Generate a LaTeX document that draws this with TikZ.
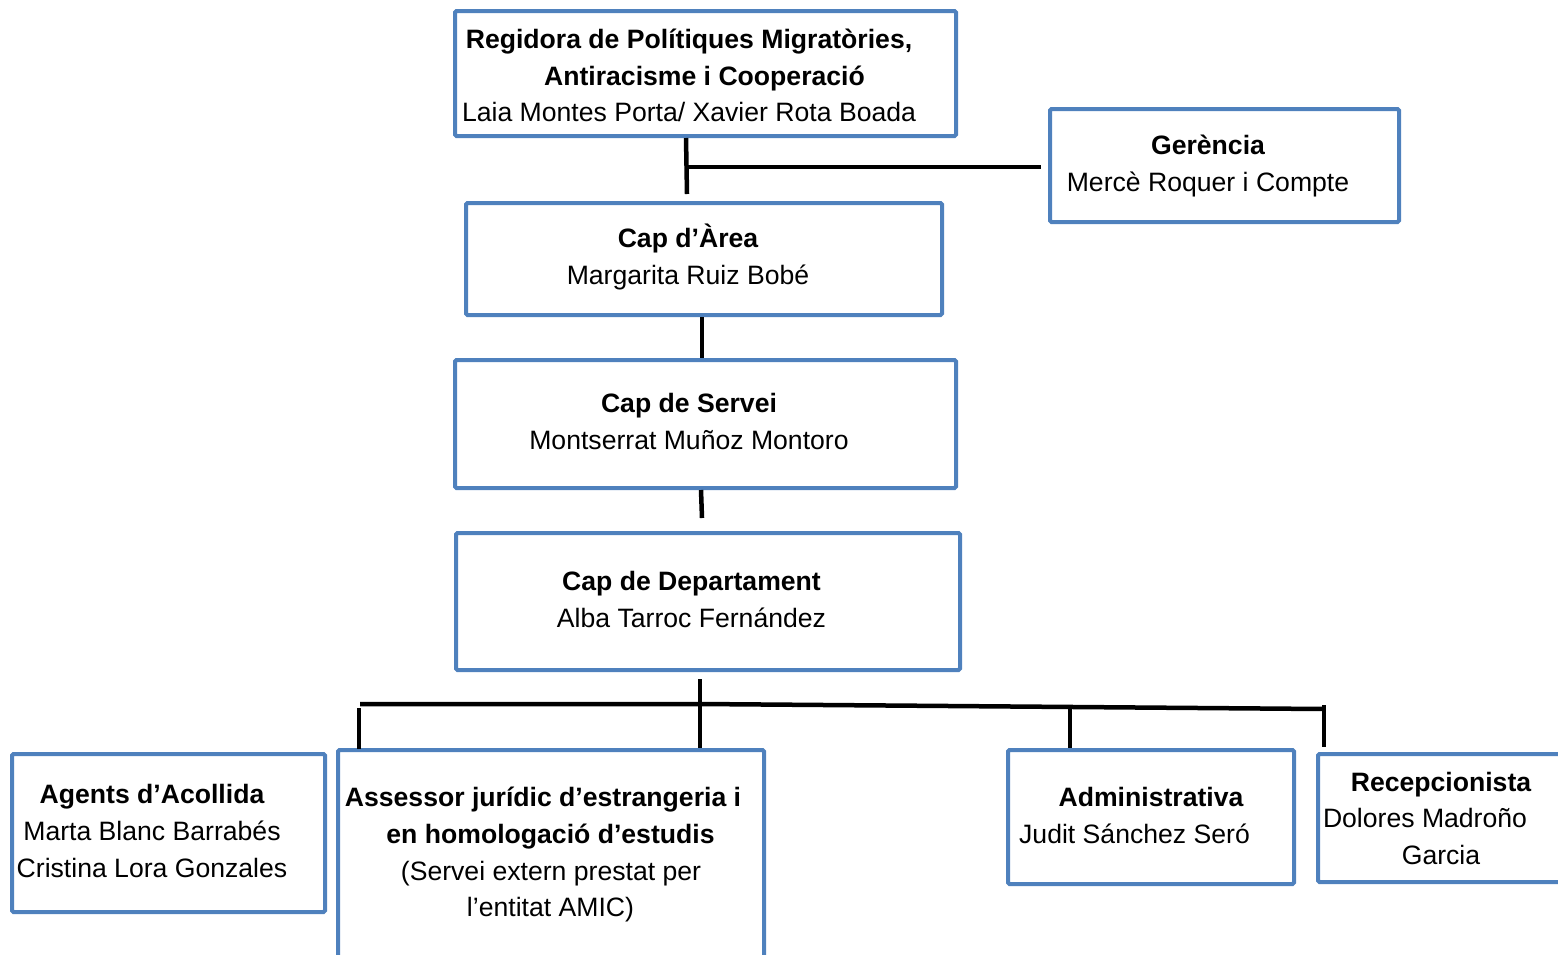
\documentclass[tikz,border=0pt]{standalone}
\usepackage{fontspec}
\setmainfont{Liberation Sans}
\definecolor{boxblue}{HTML}{4F81BD}
\begin{document}
\begin{tikzpicture}[x=1pt,y=-1pt,
  box/.style={draw=boxblue,line width=4pt,rectangle,inner sep=0pt,rounded corners=1.5pt},
  txt/.style={anchor=base,inner sep=0pt,font=\fontsize{26.6}{36.5}\selectfont},
  btxt/.style={txt,font=\fontsize{26.6}{36.5}\selectfont\bfseries},
  conn/.style={draw=black,line width=4.5pt}]
\useasboundingbox (0,0) rectangle (1558,954);
% boxes
\node[box,minimum width=501pt,minimum height=125pt] (reg) at (705.5,73.5) {};
\node[box,minimum width=349pt,minimum height=113pt] (ger) at (1224.5,165.5) {};
\node[box,minimum width=476pt,minimum height=112pt] (area) at (704,259) {};
\node[box,minimum width=501pt,minimum height=128pt] (serv) at (705.5,424) {};
\node[box,minimum width=504pt,minimum height=137pt] (dept) at (708,601.5) {};
\node[box,minimum width=313pt,minimum height=158pt] (agents) at (168.5,833) {};
\node[box,minimum width=426pt,minimum height=250pt] (asses) at (551,875) {};
\node[box,minimum width=286pt,minimum height=134pt] (admin) at (1151,817) {};
\node[box,minimum width=262pt,minimum height=128pt] (recep) at (1449,818) {};
% texts
\node[btxt] (t1) at (689,48) {Regidora de Polítiques Migratòries,};
\node[btxt] (t2) at (704.5,85) {Antiracisme i Cooperació};
\node[txt] (t3) at (689,121) {Laia Montes Porta/ Xavier Rota Boada};
\node[btxt] (t4) at (1208,154) {Gerència};
\node[txt] (t5) at (1208,191) {Mercè Roquer i Compte};
\node[btxt] (t6) at (688,247) {Cap d’Àrea};
\node[txt] (t7) at (688,284) {Margarita Ruiz Bobé};
\node[btxt] (t8) at (689,412) {Cap de Servei};
\node[txt] (t9) at (689,449) {Montserrat Muñoz Montoro};
\node[btxt] (t10) at (691.5,590) {Cap de Departament};
\node[txt] (t11) at (691.5,627) {Alba Tarroc Fernández};
\node[btxt] (t12) at (152,803) {Agents d’Acollida};
\node[txt] (t13) at (152,840) {Marta Blanc Barrabés};
\node[txt] (t14) at (152,877) {Cristina Lora Gonzales};
\node[btxt] (t15) at (543,806) {Assessor jurídic d’estrangeria i};
\node[btxt] (t16) at (550.5,843) {en homologació d’estudis};
\node[txt] (t17) at (551,880) {(Servei extern prestat per};
\node[txt] (t18) at (550.5,916) {l’entitat AMIC)};
\node[btxt] (t19) at (1151,806) {Administrativa};
\node[txt] (t20) at (1134.5,843) {Judit Sánchez Seró};
\node[btxt] (t21) at (1441,791) {Recepcionista};
\node[txt] (t22) at (1425,827) {Dolores Madroño};
\node[txt] (t23) at (1441,864) {Garcia};
% connector points
\coordinate (c1) at (686,138);
\coordinate (c2) at (687,194);
\coordinate (c3) at (687,167);
\coordinate (c4) at (1041,167);
\coordinate (c5) at (702,317);
\coordinate (c6) at (702,358);
\coordinate (c7) at (701,490);
\coordinate (c8) at (702,518);
\coordinate (c9) at (700,679);
\coordinate (c10) at (700,748);
\coordinate (h1) at (360,704);
\coordinate (h2) at (700,704);
\coordinate (h3) at (1324,709);
\coordinate (v1a) at (359,708);
\coordinate (v1b) at (359,749);
\coordinate (v2a) at (1070,706);
\coordinate (v2b) at (1070,748);
\coordinate (v3a) at (1324,705);
\coordinate (v3b) at (1324,747);
\draw[conn] (c1) -- (c2);
\draw[conn] (c3) -- (c4);
\draw[conn] (c5) -- (c6);
\draw[conn] (c7) -- (c8);
\draw[conn] (c9) -- (c10);
\draw[conn] (h1) -- (h2) -- (h3);
\draw[conn] (v1a) -- (v1b);
\draw[conn] (v2a) -- (v2b);
\draw[conn] (v3a) -- (v3b);
\end{tikzpicture}
\end{document}
